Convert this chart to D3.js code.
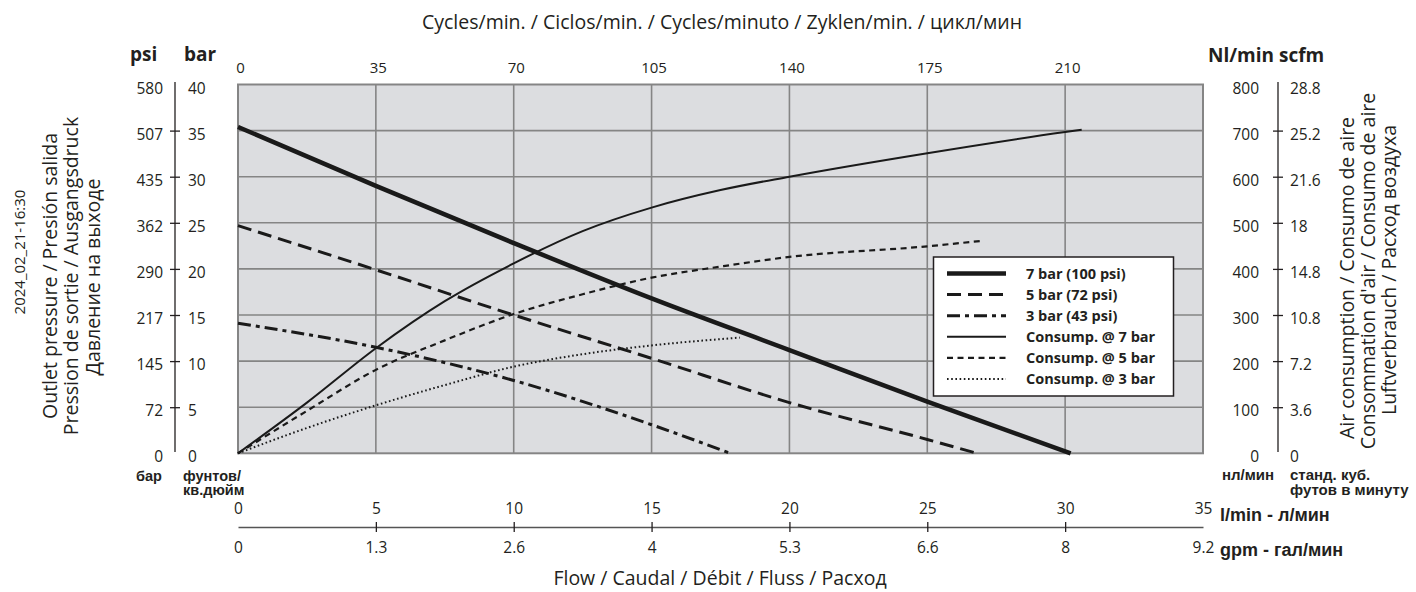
<!DOCTYPE html>
<html>
<head>
<meta charset="utf-8">
<script src="https://cdn.jsdelivr.net/npm/d3@7"></script>
<style>
  body { margin: 0; background: #fff; }
  svg { display: block; }
  text { font-family: "Open Sans", sans-serif; fill: #231f20; }
  .bold { font-weight: 700; }
  .arial { font-family: "Liberation Sans", Arial, sans-serif; font-weight: 700; }
</style>
</head>
<body>
<svg id="chart" width="1416" height="592"></svg>
<script>
// ---- axis ticks and labels ----
const flowTicks = [0, 5, 10, 15, 20, 25, 30, 35];            // l/min
const gpmLabels = ["0", "1.3", "2.6", "4", "5.3", "6.6", "8", "9.2"];
const cycleTicks = [0, 35, 70, 105, 140, 175, 210];          // cycles/min
const cycleMax = 245;
const barTicks = [0, 5, 10, 15, 20, 25, 30, 35, 40];
const psiLabels = ["0", "72", "145", "217", "290", "362", "435", "507", "580"];
const nlTicks = [0, 100, 200, 300, 400, 500, 600, 700, 800];
const scfmLabels = ["0", "3.6", "7.2", "10.8", "14.8", "18", "21.6", "25.2", "28.8"];

// ---- outlet pressure (bar) vs flow (l/min) ----
const pressure7 = [[0, 35.4], [5, 29.0], [10, 22.8], [15, 16.8], [20, 11.2], [25, 5.6], [30.2, 0]];
const pressure5 = [[0, 24.7], [5, 19.9], [10, 15.0], [15, 10.3], [20, 5.5], [25, 1.5], [26.8, 0]];
const pressure3 = [[0, 14.1], [5, 11.5], [10, 7.9], [15, 3.1], [17.85, 0]];

// ---- air consumption (Nl/min) vs flow (l/min) ----
const consump7 = [[0, 0], [2.5, 110], [5, 228], [7.5, 330], [10, 412], [12.5, 482], [15, 533], [17.5, 571], [20, 600], [25, 651], [30, 697], [30.6, 702]];
const consump5 = [[0, 0], [2.5, 92], [5, 181], [7.5, 245], [10, 302], [12.5, 345], [15, 381], [17.5, 405], [20, 426], [25, 449], [27, 461]];
const consump3 = [[0, 0], [2.5, 55], [5, 104], [7.5, 148], [10, 188], [12.5, 215], [15, 234], [18.2, 251]];

const legendLabels = ["7 bar (100 psi)", "5 bar (72 psi)", "3 bar (43 psi)",
                      "Consump. @ 7 bar", "Consump. @ 5 bar", "Consump. @ 3 bar"];

// ---- line styles ----
const styles = [
  { width: 4.5, dash: null },
  { width: 3, dash: "14,7" },
  { width: 3, dash: "13,5,4,5" },
  { width: 2, dash: null },
  { width: 2.2, dash: "6,4.5" },
  { width: 2, dash: "1.6,2.6" }
];

const svg = d3.select("#chart");
const plot = { left: 238, right: 1203, top: 84.5, bottom: 453.3 };

const x = d3.scaleLinear().domain([0, 35]).range([plot.left, plot.right]);
const xCycles = d3.scaleLinear().domain([0, cycleMax]).range([plot.left, plot.right]);
const yBar = d3.scaleLinear().domain([0, 40]).range([plot.bottom, plot.top]);
const yNl = d3.scaleLinear().domain([0, 800]).range([plot.bottom, plot.top]);

// ---- plot background and grid ----
svg.append("rect")
  .attr("x", plot.left).attr("y", plot.top)
  .attr("width", plot.right - plot.left).attr("height", plot.bottom - plot.top)
  .attr("fill", "#dcdde0");

const grid = svg.append("g").attr("stroke", "#858585").attr("stroke-width", 1.6);
grid.selectAll("line.v").data(flowTicks.slice(1, -1)).join("line")
  .attr("x1", d => x(d)).attr("x2", d => x(d))
  .attr("y1", plot.top).attr("y2", plot.bottom);
grid.selectAll("line.h").data(barTicks.slice(1, -1)).join("line")
  .attr("y1", d => yBar(d)).attr("y2", d => yBar(d))
  .attr("x1", plot.left).attr("x2", plot.right);
svg.append("rect")
  .attr("x", plot.left).attr("y", plot.top)
  .attr("width", plot.right - plot.left).attr("height", plot.bottom - plot.top)
  .attr("fill", "none").attr("stroke", "#858585").attr("stroke-width", 2);

// ---- curves ----
const lineBar = d3.line().x(d => x(d[0])).y(d => yBar(d[1])).curve(d3.curveMonotoneX);
const lineNl = d3.line().x(d => x(d[0])).y(d => yNl(d[1])).curve(d3.curveMonotoneX);

const series = [
  { data: pressure7, gen: lineBar, style: styles[0] },
  { data: pressure5, gen: lineBar, style: styles[1] },
  { data: pressure3, gen: lineBar, style: styles[2] },
  { data: consump7, gen: lineNl, style: styles[3] },
  { data: consump5, gen: lineNl, style: styles[4] },
  { data: consump3, gen: lineNl, style: styles[5] }
];
svg.append("g").selectAll("path").data(series).join("path")
  .attr("d", s => s.gen(s.data))
  .attr("fill", "none")
  .attr("stroke", "#1a1a1a")
  .attr("stroke-width", s => s.style.width)
  .attr("stroke-dasharray", s => s.style.dash);

// ---- legend ----
const legend = svg.append("g");
legend.append("rect")
  .attr("x", 933.5).attr("y", 257).attr("width", 240).attr("height", 139)
  .attr("fill", "#fff").attr("stroke", "#231f20").attr("stroke-width", 1.5);
const rows = legend.selectAll("g.row").data(legendLabels).join("g")
  .attr("transform", (d, i) => `translate(0,${273.5 + i * 21.1})`);
rows.append("line")
  .attr("x1", 947).attr("x2", 1006).attr("y1", 0).attr("y2", 0)
  .attr("stroke", "#1a1a1a")
  .attr("stroke-width", (d, i) => styles[i].width)
  .attr("stroke-dasharray", (d, i) => styles[i].dash);
rows.append("text")
  .attr("class", "bold")
  .attr("x", 1026).attr("dy", "0.36em")
  .attr("font-size", 14.5)
  .text(d => d);

// ---- left pressure axis (psi | bar) ----
const tickFont = 15.5;
const leftX = 175;
const leftPsi = svg.append("g").attr("transform", `translate(${leftX},0)`)
  .call(d3.axisLeft(yBar).tickValues(barTicks).tickSize(5).tickPadding(7)
    .tickFormat((d, i) => psiLabels[i]));
const leftBar = svg.append("g").attr("transform", `translate(${leftX},0)`)
  .call(d3.axisRight(yBar).tickValues(barTicks).tickSize(5).tickPadding(8)
    .tickFormat(d3.format("d")));
[leftPsi, leftBar].forEach(g => {
  g.select(".domain").remove();
  g.selectAll(".tick line").attr("stroke", "#231f20").attr("stroke-width", 1.3)
    .attr("display", d => (d === 0 || d === 40) ? "none" : null);
  g.selectAll(".tick text").attr("font-size", tickFont).attr("dy", "0.55em")
    .style("font-family", "'Open Sans', sans-serif").attr("fill", "#231f20");
});
svg.append("line").attr("x1", leftX).attr("x2", leftX).attr("y1", 82).attr("y2", 452)
  .attr("stroke", "#231f20").attr("stroke-width", 1.3);

// ---- right consumption axis (Nl/min | scfm) ----
const rightX = 1278;
const rightNl = svg.append("g").attr("transform", `translate(${rightX},0)`)
  .call(d3.axisLeft(yNl).tickValues(nlTicks).tickSize(5).tickPadding(14)
    .tickFormat(d3.format("d")));
const rightScfm = svg.append("g").attr("transform", `translate(${rightX},0)`)
  .call(d3.axisRight(yNl).tickValues(nlTicks).tickSize(5).tickPadding(7)
    .tickFormat((d, i) => scfmLabels[i]));
[rightNl, rightScfm].forEach(g => {
  g.select(".domain").remove();
  g.selectAll(".tick line").attr("stroke", "#231f20").attr("stroke-width", 1.3)
    .attr("display", d => (d === 0 || d === 800) ? "none" : null);
  g.selectAll(".tick text").attr("font-size", tickFont).attr("dy", "0.55em")
    .style("font-family", "'Open Sans', sans-serif").attr("fill", "#231f20");
});
svg.append("line").attr("x1", rightX).attr("x2", rightX).attr("y1", 82).attr("y2", 452)
  .attr("stroke", "#231f20").attr("stroke-width", 1.3);

// ---- top cycles axis ----
const cyclesAxis = svg.append("g").attr("transform", `translate(2,${plot.top})`)
  .call(d3.axisTop(xCycles).tickValues(cycleTicks).tickSize(0).tickPadding(12)
    .tickFormat(d3.format("d")));
cyclesAxis.select(".domain").remove();
cyclesAxis.selectAll(".tick text").attr("font-size", 15)
  .style("font-family", "'Open Sans', sans-serif").attr("fill", "#231f20");

// ---- bottom flow axis (l/min above, gpm below) ----
const axisY = 527;
const botL = svg.append("g").attr("transform", `translate(0,${axisY})`)
  .call(d3.axisTop(x).tickValues(flowTicks).tickSize(5).tickSizeOuter(0).tickPadding(8)
    .tickFormat(d3.format("d")));
const botG = svg.append("g").attr("transform", `translate(0,${axisY})`)
  .call(d3.axisBottom(x).tickValues(flowTicks).tickSize(5).tickSizeOuter(0).tickPadding(10)
    .tickFormat((d, i) => gpmLabels[i]));
botG.select(".domain").remove();
botL.select(".domain").attr("stroke", "#555").attr("stroke-width", 1.5);
[botL, botG].forEach(g => {
  g.selectAll(".tick line").attr("stroke", "#231f20").attr("stroke-width", 1.3)
    .attr("display", d => (d === 0 || d === 35) ? "none" : null);
  g.selectAll(".tick text").attr("font-size", tickFont)
    .style("font-family", "'Open Sans', sans-serif").attr("fill", "#231f20");
});

// ---- titles and unit labels ----
svg.append("text").attr("x", 722).attr("y", 29).attr("text-anchor", "middle")
  .attr("font-size", 19.5).text("Cycles/min. / Ciclos/min. / Cycles/minuto / Zyklen/min. / цикл/мин");
svg.append("text").attr("x", 720).attr("y", 585).attr("text-anchor", "middle")
  .attr("font-size", 19.5).text("Flow / Caudal / Débit / Fluss / Расход");

svg.append("text").attr("class", "bold").attr("x", 130).attr("y", 61).attr("font-size", 19).text("psi");
svg.append("text").attr("class", "bold").attr("x", 184).attr("y", 61).attr("font-size", 19).text("bar");
svg.append("text").attr("class", "bold").attr("x", 1208).attr("y", 62).attr("font-size", 19).text("Nl/min scfm");

svg.append("text").attr("class", "arial").attr("x", 136).attr("y", 481).attr("font-size", 14.5).text("бар");
svg.append("text").attr("class", "arial").attr("x", 183).attr("y", 481).attr("font-size", 14.5).text("фунтов/");
svg.append("text").attr("class", "arial").attr("x", 183).attr("y", 495).attr("font-size", 14.5).text("кв.дюйм");
svg.append("text").attr("class", "arial").attr("x", 1222).attr("y", 480).attr("font-size", 15).text("нл/мин");
svg.append("text").attr("class", "arial").attr("x", 1290).attr("y", 480).attr("font-size", 15).text("станд. куб.");
svg.append("text").attr("class", "arial").attr("x", 1290).attr("y", 495).attr("font-size", 15).text("футов в минуту");
svg.append("text").attr("class", "arial").attr("x", 1220).attr("y", 521).attr("font-size", 18).text("l/min - л/мин");
svg.append("text").attr("class", "arial").attr("x", 1220).attr("y", 556).attr("font-size", 18).text("gpm - гал/мин");

// rotated axis titles
const vtext = (cx, cy, size, str) => svg.append("text")
  .attr("transform", `translate(${cx},${cy}) rotate(-90)`)
  .attr("text-anchor", "middle").attr("dy", "0.35em")
  .attr("font-size", size).text(str);
vtext(20, 252, 15, "2024_02_21-16:30");
vtext(50, 276, 19.5, "Outlet pressure / Presión salida");
vtext(71, 276, 19.5, "Pression de sortie / Ausgangsdruck");
vtext(93, 277, 19.5, "Давление на выходе");
vtext(1347, 278, 19.5, "Air consumption / Consumo de aire");
vtext(1368, 271, 19.5, "Consommation d'air / Consumo de aire");
vtext(1389, 270, 19.5, "Luftverbrauch / Расход воздуха");
</script>
</body>
</html>
